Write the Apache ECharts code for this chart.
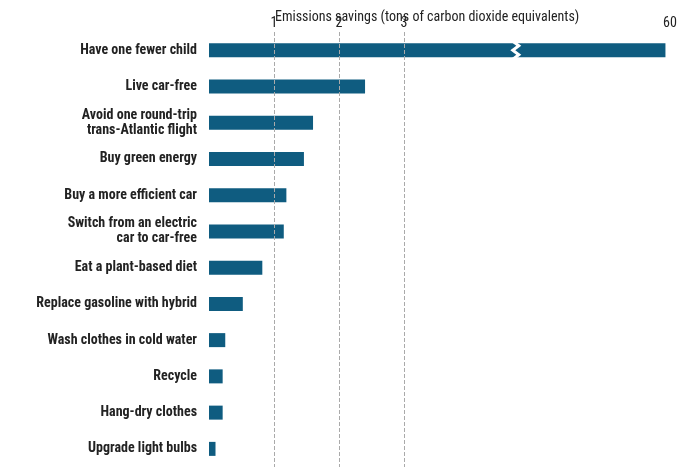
<!DOCTYPE html>
<html><head><meta charset="utf-8">
<script src="https://cdn.jsdelivr.net/npm/echarts@6/dist/echarts.min.js"></script>
<style>body{margin:0}#c{width:699px;height:467px}</style>
</head><body><div id="c"></div>
<script>
var actions = ["Have one fewer child","Live car-free","Avoid one round-trip\ntrans-Atlantic flight","Buy green energy","Buy a more efficient car","Switch from an electric\ncar to car-free","Eat a plant-based diet","Replace gasoline with hybrid","Wash clothes in cold water","Recycle","Hang-dry clothes","Upgrade light bulbs"];
var savings = [58.6, 2.4, 1.6, 1.46, 1.19, 1.15, 0.82, 0.52, 0.25, 0.21, 0.21, 0.1];
var tickLabels = [1, 2, 3, 60];
// broken axis: 60 is drawn at this scale position
var breakTop = 7.09, breakAt = 4.68;
function toScale(v){ return v > 10 ? breakTop - (60 - v) * 0.05 : v; }
var shown = savings.map(toScale);
var tickPos = tickLabels.map(toScale);

var chart = echarts.init(document.getElementById("c"));
var font = "'Liberation Sans Narrow', 'Roboto Condensed', Arial, sans-serif";
chart.setOption({
  animation:false,
  grid:{left:209,right:29,top:32,bottom:0},
  title:{text:"Emissions savings (tons of carbon dioxide equivalents)",left:270,top:5,
    textStyle:{fontFamily:font,fontSize:14,fontWeight:"normal",color:"#222"}},
  xAxis:{type:"value",position:"top",min:0,max:breakTop,
    axisLine:{show:false},axisTick:{show:false},splitLine:{show:false},
    axisLabel:{customValues:tickPos,margin:2,fontFamily:font,fontSize:14,color:"#222",
      formatter:function(v){var i=tickPos.indexOf(v);return i<0?"":String(tickLabels[i]);}}},
  yAxis:{type:"category",inverse:true,data:actions,
    axisLine:{show:false},axisTick:{show:false},
    axisLabel:{margin:12,fontFamily:font,fontSize:14,fontWeight:"bold",color:"#222",lineHeight:15}},
  series:[{type:"bar",data:shown,barWidth:14,itemStyle:{color:"#0f5c80"},
    markLine:{silent:true,symbol:"none",label:{show:false},
      lineStyle:{color:"#aaa",type:"dashed",width:1},
      data:[{xAxis:1},{xAxis:2},{xAxis:3}]}}]
});
var p = chart.convertToPixel({xAxisIndex:0,yAxisIndex:0},[breakAt,0]);
var x = p[0], y = p[1], pts = [];
for (var k = 0; k <= 4; k++) pts.push([x + (k % 2 ? 3 : -3), y - 9 + k * 4.5]);
var pts2 = pts.map(function(q){return [q[0]+5,q[1]];}).reverse();
chart.setOption({graphic:[{type:"polygon",shape:{points:pts.concat(pts2)},style:{fill:"#fff"},z:100}]});
</script></body></html>
